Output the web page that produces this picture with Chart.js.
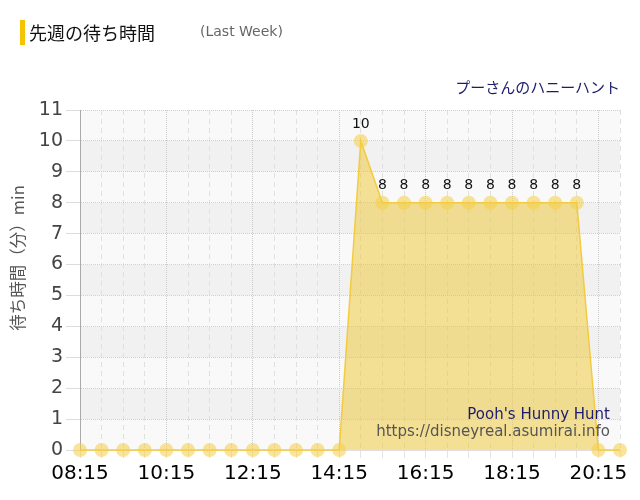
<!DOCTYPE html>
<html lang="ja">
<head>
<meta charset="UTF-8">
<title>先週の待ち時間</title>
<script src="https://cdn.jsdelivr.net/npm/chart.js@4"></script>
<style>
  * { margin:0; padding:0; box-sizing:border-box; }
  body { width:640px; height:500px; background:#fff; font-family:'Noto Sans CJK JP', 'DejaVu Sans', sans-serif; position:relative; overflow:hidden; }
  .wrap { position:absolute; left:0; top:0; width:640px; height:500px; }
  .bar { position:absolute; left:20px; top:20px; width:5px; height:25px; background:#f5c400; }
  .title { position:absolute; left:29px; top:19px; font-size:18px; color:#111; line-height:26px; }
  .sub { position:absolute; left:200px; top:21px; font-size:14px; color:#666; font-family:'DejaVu Sans', sans-serif; line-height:20px; }
  .ride { position:absolute; right:20px; top:76px; font-size:15px; color:#1c1c6e; line-height:22px; }
</style>
</head>
<body>
<div class="wrap"><canvas id="c"></canvas></div>
<div class="bar"></div>
<div class="title">先週の待ち時間</div>
<div class="sub">(Last Week)</div>
<div class="ride">プーさんのハニーハント</div>

<script>
// 30分ごとの時刻
const times = ['08:15','08:45','09:15','09:45','10:15','10:45','11:15','11:45','12:15','12:45',
  '13:15','13:45','14:15','14:45','15:15','15:45','16:15','16:45','17:15','17:45',
  '18:15','18:45','19:15','19:45','20:15','20:45'];
// 待ち時間（分）
const waits = [0,0,0,0,0,0,0,0,0,0,0,0,0,10,8,8,8,8,8,8,8,8,8,8,0,0];
const yMin = 0, yMax = 11;
const rideEn = "Pooh's Hunny Hunt";
const site = 'https://disneyreal.asumirai.info';
const yTitle = '待ち時間（分）min';

// 背景の縞
const bands = {
  id: 'bands',
  beforeDraw(chart) {
    const { ctx, chartArea: a, scales: { y } } = chart;
    ctx.save();
    for (let v = yMin; v < yMax; v++) {
      const top = y.getPixelForValue(v + 1), bot = y.getPixelForValue(v);
      ctx.fillStyle = v % 2 ? '#f1f1f1' : '#f9f9f9';
      ctx.fillRect(a.left, top, a.right - a.left, bot - top);
    }
    ctx.restore();
  }
};

// 値ラベル・透かし・縦軸タイトル
const extras = {
  id: 'extras',
  afterDatasetsDraw(chart) {
    const { ctx, chartArea: a } = chart;
    const meta = chart.getDatasetMeta(0);
    ctx.save();
    ctx.font = '14px "DejaVu Sans", sans-serif';
    ctx.fillStyle = '#111';
    ctx.textAlign = 'center';
    ctx.textBaseline = 'bottom';
    meta.data.forEach((pt, i) => {
      if (waits[i] > 0) ctx.fillText(String(waits[i]), pt.x, pt.y - 10);
    });

    ctx.textAlign = 'right';
    ctx.textBaseline = 'middle';
    ctx.font = '15px "DejaVu Sans", sans-serif';
    ctx.fillStyle = '#1c1c6e';
    ctx.fillText(rideEn, a.right - 10, 415);
    ctx.font = '15px "DejaVu Sans", sans-serif';
    ctx.fillStyle = '#555';
    ctx.fillText(site, a.right - 10, 432);

    ctx.translate(18, 258);
    ctx.rotate(-Math.PI / 2);
    ctx.textAlign = 'center';
    ctx.font = '16.5px "Noto Sans CJK JP", sans-serif';
    ctx.fillStyle = '#555';
    ctx.fillText(yTitle, 0, 0);
    ctx.restore();
  }
};

new Chart(document.getElementById('c'), {
  type: 'line',
  data: {
    labels: times,
    datasets: [{
      data: waits,
      borderColor: 'rgba(243,200,50,0.9)',
      borderWidth: 1.5,
      backgroundColor: 'rgba(240,200,50,0.5)',
      fill: 'origin',
      tension: 0,
      pointRadius: 7,
      pointHoverRadius: 7,
      pointBorderWidth: 0,
      pointBackgroundColor: 'rgba(245,205,70,0.55)',
      clip: false
    }]
  },
  options: {
    responsive: true,
    maintainAspectRatio: false,
    animation: false,
    layout: { padding: { top: 110, right: 20, left: 0, bottom: 0 } },
    plugins: { legend: { display: false }, tooltip: { enabled: false } },
    scales: {
      x: {
        offset: false,
        afterFit(s) { s.height = 50; },
        ticks: {
          autoSkip: false,
          maxRotation: 0,
          color: '#000',
          font: { family: 'DejaVu Sans', size: 20 },
          padding: 4,
          callback(v, i) { return i % 4 === 0 ? times[i] : ''; }
        },
        grid: {
          color: ctx => ctx.index === 0 ? '#aaaaaa' : (ctx.index % 4 === 0 ? '#cccccc' : '#e0e0e0'),
          tickColor: '#e4e4e4',
          tickLength: 8
        },
        border: {
          color: '#e0e0e0',
          dash: ctx => ctx.index === 0 ? [] : (ctx.index % 4 === 0 ? [1, 1] : [5, 4])
        }
      },
      y: {
        min: yMin,
        max: yMax,
        afterFit(s) { s.width = 80; },
        ticks: {
          stepSize: 1,
          color: '#444',
          font: { family: 'DejaVu Sans', size: 19 },
          padding: 3
        },
        grid: {
          color: '#cfcfcf',
          tickColor: '#dddddd',
          tickLength: 14,
          tickBorderDash: []
        },
        border: { color: '#aaaaaa', width: 1, dash: [1, 1] }
      }
    }
  },
  plugins: [bands, extras]
});
</script>
</body>
</html>
